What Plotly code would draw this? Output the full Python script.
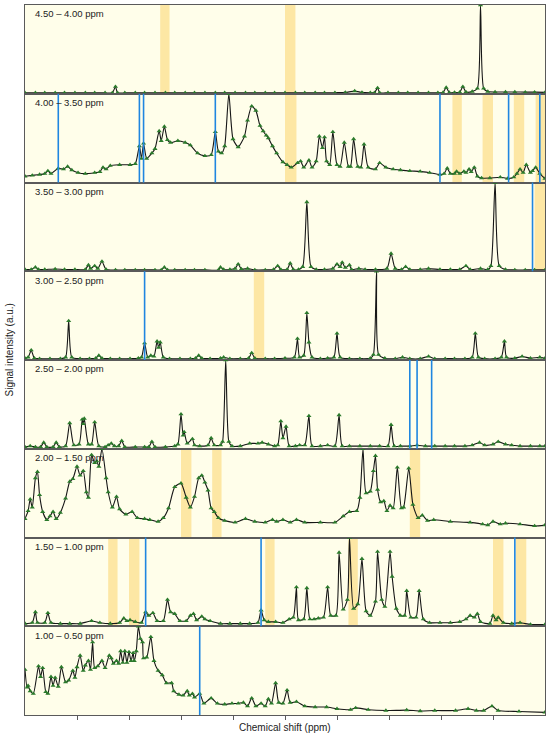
import plotly.graph_objects as go
from plotly.subplots import make_subplots

p1 = [(4.500, 0.01), (4.490, 0.01), (4.481, 0.01), (4.471, 0.01), (4.462, 0.012), (4.452, 0.01),
      (4.442, 0.01), (4.433, 0.01), (4.423, 0.01), (4.416, 0.01), (4.413, 0.08), (4.411, 0.01),
      (4.404, 0.01), (4.394, 0.01), (4.385, 0.01), (4.375, 0.01), (4.365, 0.01), (4.356, 0.01),
      (4.346, 0.01), (4.337, 0.01), (4.327, 0.01), (4.317, 0.01), (4.308, 0.012), (4.298, 0.01),
      (4.288, 0.01), (4.279, 0.01), (4.269, 0.01), (4.260, 0.01), (4.250, 0.01), (4.240, 0.01),
      (4.231, 0.01), (4.221, 0.012), (4.212, 0.01), (4.202, 0.012), (4.192, 0.015), (4.183, 0.03),
      (4.176, 0.015), (4.168, 0.012), (4.164, 0.012), (4.161, 0.065), (4.159, 0.012), (4.151, 0.012),
      (4.141, 0.012), (4.132, 0.012), (4.122, 0.012), (4.112, 0.012), (4.103, 0.012), (4.098, 0.013),
      (4.095, 0.07), (4.092, 0.013), (4.087, 0.015), (4.082, 0.018), (4.079, 0.08), (4.076, 0.02),
      (4.070, 0.025), (4.065, 0.06), (4.062, 1.00), (4.059, 0.06), (4.055, 0.025), (4.048, 0.02),
      (4.038, 0.02), (4.029, 0.02), (4.019, 0.018), (4.010, 0.018), (4.000, 0.015)]

p2 = [(4.000, 0.07), (3.993, 0.08), (3.986, 0.09), (3.981, 0.10), (3.978, 0.13), (3.975, 0.10),
      (3.968, 0.16), (3.963, 0.15), (3.959, 0.18), (3.955, 0.14), (3.949, 0.11), (3.942, 0.10),
      (3.933, 0.11), (3.928, 0.12), (3.925, 0.17), (3.922, 0.15), (3.918, 0.19), (3.909, 0.20),
      (3.899, 0.20), (3.894, 0.21), (3.890, 0.41), (3.888, 0.27), (3.886, 0.44), (3.883, 0.27),
      (3.878, 0.33), (3.875, 0.38), (3.871, 0.58), (3.869, 0.47), (3.866, 0.63), (3.863, 0.48),
      (3.860, 0.45), (3.853, 0.47), (3.846, 0.45), (3.841, 0.42), (3.834, 0.33), (3.827, 0.30),
      (3.821, 0.31), (3.817, 0.57), (3.814, 0.35), (3.811, 0.33), (3.808, 0.41), (3.804, 1.00),
      (3.800, 0.49), (3.795, 0.40), (3.789, 0.52), (3.786, 0.70), (3.782, 0.86), (3.778, 0.81),
      (3.774, 0.64), (3.771, 0.58), (3.768, 0.53), (3.766, 0.50), (3.762, 0.41), (3.758, 0.33),
      (3.752, 0.23), (3.748, 0.20), (3.744, 0.17), (3.738, 0.22), (3.735, 0.24), (3.732, 0.17),
      (3.727, 0.25), (3.724, 0.17), (3.720, 0.24), (3.717, 0.52), (3.714, 0.39), (3.712, 0.51),
      (3.710, 0.24), (3.707, 0.20), (3.704, 0.57), (3.700, 0.20), (3.697, 0.18), (3.693, 0.45),
      (3.689, 0.18), (3.687, 0.18), (3.684, 0.49), (3.680, 0.18), (3.677, 0.17), (3.674, 0.43),
      (3.670, 0.17), (3.663, 0.15), (3.659, 0.22), (3.653, 0.17), (3.646, 0.15), (3.639, 0.14),
      (3.630, 0.13), (3.620, 0.125), (3.611, 0.11), (3.601, 0.09), (3.597, 0.10), (3.594, 0.16),
      (3.591, 0.10), (3.587, 0.10), (3.585, 0.125), (3.582, 0.10), (3.578, 0.125), (3.576, 0.11),
      (3.573, 0.15), (3.571, 0.12), (3.568, 0.17), (3.565, 0.07), (3.561, 0.05), (3.553, 0.05),
      (3.543, 0.06), (3.536, 0.045), (3.530, 0.06), (3.527, 0.10), (3.524, 0.15), (3.521, 0.11),
      (3.518, 0.20), (3.514, 0.11), (3.512, 0.13), (3.509, 0.17), (3.505, 0.10), (3.500, 0.045)]

p3 = [(3.500, 0.02), (3.494, 0.02), (3.490, 0.045), (3.487, 0.02), (3.481, 0.02), (3.471, 0.025),
      (3.462, 0.02), (3.452, 0.02), (3.442, 0.02), (3.439, 0.07), (3.437, 0.03), (3.433, 0.06),
      (3.430, 0.03), (3.426, 0.11), (3.422, 0.02), (3.413, 0.015), (3.404, 0.015), (3.394, 0.015),
      (3.385, 0.015), (3.375, 0.015), (3.369, 0.015), (3.366, 0.045), (3.363, 0.015), (3.356, 0.015),
      (3.346, 0.015), (3.337, 0.015), (3.327, 0.015), (3.314, 0.015), (3.312, 0.045), (3.309, 0.02),
      (3.303, 0.02), (3.298, 0.03), (3.295, 0.08), (3.292, 0.025), (3.286, 0.03), (3.279, 0.015),
      (3.269, 0.015), (3.261, 0.02), (3.257, 0.06), (3.254, 0.02), (3.248, 0.02), (3.245, 0.09),
      (3.242, 0.02), (3.237, 0.02), (3.233, 0.05), (3.229, 0.78), (3.225, 0.05), (3.220, 0.02),
      (3.212, 0.02), (3.204, 0.03), (3.200, 0.08), (3.197, 0.05), (3.195, 0.10), (3.192, 0.04),
      (3.188, 0.07), (3.186, 0.02), (3.179, 0.03), (3.173, 0.02), (3.163, 0.02), (3.152, 0.03),
      (3.148, 0.20), (3.144, 0.03), (3.138, 0.02), (3.134, 0.05), (3.130, 0.02), (3.120, 0.02),
      (3.112, 0.03), (3.101, 0.02), (3.091, 0.02), (3.082, 0.02), (3.076, 0.06), (3.072, 0.02),
      (3.062, 0.03), (3.055, 0.02), (3.052, 0.06), (3.048, 1.00), (3.044, 0.06), (3.038, 0.02),
      (3.029, 0.015), (3.019, 0.015), (3.010, 0.015), (3.000, 0.015)]

p4 = [(3.000, 0.02), (2.997, 0.03), (2.994, 0.11), (2.991, 0.02), (2.986, 0.015), (2.976, 0.015),
      (2.966, 0.015), (2.961, 0.03), (2.958, 0.44), (2.955, 0.03), (2.947, 0.015), (2.938, 0.015),
      (2.932, 0.02), (2.929, 0.05), (2.926, 0.02), (2.918, 0.015), (2.909, 0.015), (2.899, 0.015),
      (2.891, 0.02), (2.888, 0.03), (2.885, 0.19), (2.882, 0.03), (2.879, 0.05), (2.876, 0.04),
      (2.873, 0.21), (2.8715, 0.14), (2.870, 0.20), (2.867, 0.03), (2.861, 0.015), (2.851, 0.015),
      (2.841, 0.015), (2.836, 0.02), (2.833, 0.05), (2.830, 0.02), (2.822, 0.015), (2.812, 0.02),
      (2.809, 0.03), (2.803, 0.015), (2.793, 0.015), (2.785, 0.02), (2.782, 0.08), (2.779, 0.02),
      (2.769, 0.015), (2.760, 0.015), (2.750, 0.02), (2.741, 0.03), (2.738, 0.24), (2.736, 0.03),
      (2.732, 0.05), (2.729, 0.53), (2.727, 0.20), (2.724, 0.03), (2.716, 0.015), (2.709, 0.02),
      (2.703, 0.03), (2.700, 0.30), (2.697, 0.03), (2.688, 0.015), (2.678, 0.015), (2.668, 0.02),
      (2.665, 0.06), (2.662, 1.00), (2.660, 0.06), (2.654, 0.02), (2.644, 0.015), (2.637, 0.03),
      (2.630, 0.015), (2.620, 0.015), (2.612, 0.04), (2.606, 0.015), (2.596, 0.015), (2.587, 0.015),
      (2.577, 0.015), (2.570, 0.03), (2.567, 0.30), (2.564, 0.03), (2.558, 0.015), (2.548, 0.015),
      (2.542, 0.03), (2.539, 0.21), (2.537, 0.03), (2.529, 0.02), (2.522, 0.04), (2.514, 0.02),
      (2.505, 0.03), (2.500, 0.02)]

p5 = [(2.500, 0.02), (2.495, 0.03), (2.490, 0.02), (2.485, 0.02), (2.482, 0.07), (2.479, 0.02),
      (2.473, 0.02), (2.470, 0.07), (2.467, 0.02), (2.461, 0.03), (2.457, 0.29), (2.453, 0.04),
      (2.448, 0.05), (2.445, 0.33), (2.444, 0.28), (2.443, 0.34), (2.439, 0.05), (2.436, 0.05),
      (2.433, 0.30), (2.429, 0.03), (2.423, 0.02), (2.420, 0.04), (2.417, 0.06), (2.414, 0.03),
      (2.410, 0.03), (2.407, 0.09), (2.404, 0.02), (2.394, 0.02), (2.385, 0.02), (2.381, 0.02),
      (2.378, 0.08), (2.375, 0.02), (2.365, 0.02), (2.356, 0.03), (2.353, 0.05), (2.350, 0.39),
      (2.348, 0.15), (2.347, 0.19), (2.344, 0.06), (2.339, 0.11), (2.337, 0.04), (2.332, 0.03),
      (2.324, 0.04), (2.321, 0.12), (2.318, 0.04), (2.312, 0.04), (2.310, 0.08), (2.307, 1.00),
      (2.304, 0.08), (2.301, 0.03), (2.293, 0.03), (2.284, 0.06), (2.276, 0.06), (2.272, 0.07),
      (2.266, 0.05), (2.260, 0.03), (2.257, 0.04), (2.254, 0.31), (2.252, 0.12), (2.249, 0.25),
      (2.246, 0.03), (2.240, 0.03), (2.236, 0.04), (2.231, 0.04), (2.227, 0.37), (2.224, 0.03),
      (2.216, 0.03), (2.209, 0.04), (2.202, 0.03), (2.198, 0.38), (2.195, 0.03), (2.188, 0.03),
      (2.178, 0.03), (2.168, 0.03), (2.159, 0.03), (2.151, 0.03), (2.148, 0.27), (2.145, 0.03),
      (2.139, 0.03), (2.130, 0.03), (2.123, 0.04), (2.115, 0.03), (2.106, 0.03), (2.096, 0.03),
      (2.087, 0.03), (2.077, 0.03), (2.070, 0.04), (2.063, 0.07), (2.058, 0.04), (2.050, 0.05),
      (2.045, 0.08), (2.038, 0.05), (2.032, 0.04), (2.024, 0.03), (2.014, 0.03), (2.005, 0.03),
      (2.000, 0.03)]

p6 = [(2.000, 0.21), (1.997, 0.30), (1.995, 0.43), (1.993, 0.34), (1.990, 0.67), (1.988, 0.74),
      (1.986, 0.48), (1.983, 0.29), (1.979, 0.20), (1.976, 0.24), (1.973, 0.29), (1.970, 0.21),
      (1.966, 0.28), (1.961, 0.44), (1.957, 0.63), (1.954, 0.66), (1.950, 0.80), (1.947, 0.70),
      (1.944, 0.75), (1.941, 0.51), (1.939, 0.45), (1.936, 0.93), (1.933, 0.84), (1.931, 0.86),
      (1.929, 0.80), (1.926, 1.00), (1.922, 0.67), (1.920, 0.51), (1.916, 0.34), (1.912, 0.46),
      (1.909, 0.32), (1.903, 0.26), (1.897, 0.29), (1.892, 0.22), (1.885, 0.21), (1.880, 0.20),
      (1.872, 0.18), (1.867, 0.22), (1.862, 0.33), (1.856, 0.57), (1.850, 0.61), (1.845, 0.45),
      (1.841, 0.34), (1.837, 0.46), (1.833, 0.67), (1.830, 0.70), (1.827, 0.62), (1.824, 0.53),
      (1.821, 0.33), (1.818, 0.29), (1.814, 0.22), (1.808, 0.19), (1.798, 0.17), (1.788, 0.21),
      (1.779, 0.18), (1.769, 0.17), (1.762, 0.20), (1.758, 0.18), (1.752, 0.20), (1.745, 0.17),
      (1.739, 0.20), (1.731, 0.17), (1.716, 0.17), (1.702, 0.17), (1.694, 0.24), (1.688, 0.29),
      (1.681, 0.30), (1.678, 0.45), (1.675, 1.00), (1.672, 0.50), (1.668, 0.52), (1.665, 0.75),
      (1.663, 0.92), (1.661, 0.54), (1.658, 0.40), (1.655, 0.41), (1.652, 0.30), (1.649, 0.36),
      (1.646, 0.33), (1.642, 0.79), (1.638, 0.33), (1.636, 0.34), (1.631, 0.78), (1.627, 0.37),
      (1.622, 0.22), (1.618, 0.25), (1.613, 0.19), (1.607, 0.20), (1.591, 0.18), (1.572, 0.17),
      (1.560, 0.15), (1.555, 0.14), (1.550, 0.18), (1.543, 0.15), (1.538, 0.16), (1.524, 0.15),
      (1.510, 0.13), (1.500, 0.14)]

p7 = [(1.500, 0.03), (1.493, 0.04), (1.490, 0.16), (1.488, 0.04), (1.481, 0.04), (1.478, 0.15),
      (1.475, 0.04), (1.466, 0.03), (1.457, 0.03), (1.447, 0.03), (1.436, 0.06), (1.428, 0.04),
      (1.418, 0.03), (1.409, 0.04), (1.405, 0.09), (1.402, 0.06), (1.399, 0.07), (1.394, 0.05),
      (1.388, 0.04), (1.384, 0.16), (1.381, 0.12), (1.377, 0.15), (1.373, 0.06), (1.367, 0.06),
      (1.363, 0.30), (1.360, 0.16), (1.356, 0.14), (1.351, 0.06), (1.345, 0.06), (1.341, 0.12),
      (1.338, 0.14), (1.335, 0.07), (1.330, 0.11), (1.327, 0.08), (1.322, 0.06), (1.312, 0.03),
      (1.303, 0.03), (1.293, 0.03), (1.284, 0.03), (1.276, 0.04), (1.273, 0.18), (1.270, 0.07),
      (1.266, 0.05), (1.259, 0.05), (1.252, 0.04), (1.246, 0.08), (1.242, 0.10), (1.239, 0.44),
      (1.237, 0.07), (1.232, 0.08), (1.229, 0.43), (1.226, 0.08), (1.222, 0.08), (1.218, 0.09),
      (1.213, 0.10), (1.209, 0.44), (1.206, 0.12), (1.201, 0.12), (1.198, 0.83), (1.194, 0.19),
      (1.190, 0.30), (1.188, 1.00), (1.184, 0.20), (1.180, 0.25), (1.176, 0.76), (1.172, 0.17),
      (1.168, 0.12), (1.163, 0.28), (1.161, 0.84), (1.157, 0.30), (1.154, 0.22), (1.149, 0.84),
      (1.147, 0.56), (1.143, 0.20), (1.139, 0.12), (1.135, 0.12), (1.133, 0.40), (1.129, 0.10),
      (1.124, 0.10), (1.121, 0.40), (1.117, 0.08), (1.111, 0.04), (1.101, 0.04), (1.091, 0.04),
      (1.082, 0.05), (1.076, 0.08), (1.072, 0.12), (1.068, 0.10), (1.065, 0.14), (1.062, 0.05),
      (1.053, 0.03), (1.050, 0.12), (1.047, 0.07), (1.045, 0.10), (1.040, 0.04), (1.032, 0.03),
      (1.024, 0.04), (1.014, 0.02), (1.000, 0.02)]

p8 = [(1.000, 0.51), (0.998, 0.31), (0.997, 0.33), (0.995, 0.27), (0.992, 0.24), (0.987, 0.55),
      (0.985, 0.43), (0.983, 0.53), (0.980, 0.26), (0.978, 0.24), (0.975, 0.43), (0.973, 0.33),
      (0.971, 0.42), (0.968, 0.32), (0.965, 0.54), (0.961, 0.37), (0.958, 0.39), (0.954, 0.50),
      (0.952, 0.42), (0.950, 0.54), (0.947, 0.67), (0.944, 0.50), (0.942, 0.56), (0.939, 0.61),
      (0.937, 0.51), (0.935, 0.82), (0.933, 0.53), (0.930, 0.55), (0.926, 0.61), (0.923, 0.53),
      (0.919, 0.67), (0.917, 0.64), (0.915, 0.58), (0.912, 0.61), (0.910, 0.58), (0.908, 0.72),
      (0.906, 0.59), (0.904, 0.72), (0.902, 0.59), (0.900, 0.71), (0.898, 0.61), (0.896, 0.70),
      (0.895, 0.61), (0.893, 0.72), (0.891, 1.00), (0.889, 0.86), (0.887, 0.82), (0.886, 0.64),
      (0.883, 0.65), (0.879, 0.88), (0.876, 0.61), (0.872, 0.50), (0.868, 0.45), (0.864, 0.36),
      (0.859, 0.36), (0.857, 0.27), (0.852, 0.23), (0.848, 0.22), (0.844, 0.27), (0.842, 0.22),
      (0.839, 0.24), (0.837, 0.20), (0.832, 0.24), (0.828, 0.13), (0.821, 0.19), (0.815, 0.13),
      (0.808, 0.12), (0.801, 0.13), (0.795, 0.13), (0.790, 0.14), (0.786, 0.10), (0.782, 0.19),
      (0.778, 0.10), (0.773, 0.13), (0.769, 0.10), (0.766, 0.18), (0.763, 0.13), (0.759, 0.36),
      (0.756, 0.14), (0.752, 0.13), (0.748, 0.28), (0.745, 0.14), (0.739, 0.15), (0.731, 0.10),
      (0.721, 0.09), (0.710, 0.09), (0.700, 0.07), (0.687, 0.06), (0.682, 0.08), (0.670, 0.06),
      (0.653, 0.05), (0.633, 0.055), (0.620, 0.045), (0.606, 0.05), (0.586, 0.05), (0.574, 0.07),
      (0.566, 0.05), (0.559, 0.05), (0.551, 0.10), (0.545, 0.05), (0.525, 0.04), (0.500, 0.03)]

# shaded regions (ppm from, ppm to) and marked positions per strip
band1 = [(4.370, 4.361), (4.250, 4.240)]
band2 = [(3.750, 3.739), (3.589, 3.580), (3.560, 3.550), (3.530, 3.520), (3.509, 3.500)]
band3 = [(3.010, 3.000)]
band4 = [(2.780, 2.770)]
band5 = []
band6 = [(1.850, 1.840), (1.820, 1.811), (1.630, 1.620)]
band7 = [(1.420, 1.411), (1.400, 1.390), (1.269, 1.260), (1.189, 1.180), (1.050, 1.040), (1.028, 1.018)]
band8 = []

mark1 = []
mark2 = [3.968, 3.890, 3.886, 3.817, 3.601, 3.535, 3.505]
mark3 = [3.012]
mark4 = [2.885]
mark5 = [2.130, 2.123, 2.109]
mark6 = []
mark7 = [1.384, 1.273, 1.029]
mark8 = [0.832]

starts = [4.50, 4.00, 3.50, 3.00, 2.50, 2.00, 1.50, 1.00]
labels = ['4.50 – 4.00 ppm', '4.00 – 3.50 ppm', '3.50 – 3.00 ppm', '3.00 – 2.50 ppm',
          '2.50 – 2.00 ppm', '2.00 – 1.50 ppm', '1.50 – 1.00 ppm', '1.00 – 0.50 ppm']
bottom_ticks = [0.95, 0.90, 0.85, 0.80, 0.75, 0.70, 0.65, 0.60, 0.55]

spectra = [p1, p2, p3, p4, p5, p6, p7, p8]
bands = [band1, band2, band3, band4, band5, band6, band7, band8]
marks = [mark1, mark2, mark3, mark4, mark5, mark6, mark7, mark8]

font = 'Liberation Sans, Arial, sans-serif'
fig = make_subplots(rows=8, cols=1, vertical_spacing=0)

for i in range(8):
    r = i + 1
    pts = spectra[i]
    fig.add_trace(go.Scatter(x=[p[0] for p in pts], y=[p[1] for p in pts], mode='lines+markers',
                             line=dict(color='#161616', width=1.1, shape='spline', smoothing=0.6),
                             marker=dict(symbol='triangle-up', size=4.5, color='#2b7a2b'),
                             showlegend=False), row=r, col=1)
    for x0, x1 in bands[i]:
        fig.add_vrect(x0=x0, x1=x1, row=r, col=1, fillcolor='#fde49c', opacity=0.9,
                      line_width=0, layer='below')
    for x in marks[i]:
        fig.add_vline(x=x, row=r, col=1, line=dict(color='#1f86e0', width=1.6))
    fig.update_xaxes(range=[starts[i], starts[i] - 0.5], row=r, col=1)
    fig.add_annotation(text=labels[i], xref='x domain' if r == 1 else 'x%d domain' % r,
                       yref='y domain' if r == 1 else 'y%d domain' % r,
                       x=0.016, y=0.985, xanchor='left', yanchor='top', showarrow=False,
                       font=dict(size=9.5, color='#222'))

fig.update_xaxes(showticklabels=False, ticks='', showgrid=False, zeroline=False,
                 showline=True, mirror=True, linecolor='#5a5a5a', linewidth=1)
fig.update_xaxes(tickvals=bottom_ticks, ticks='outside', ticklen=4, tickcolor='#5a5a5a', row=8, col=1)
fig.update_yaxes(range=[0, 1.0], showticklabels=False, ticks='', showgrid=False, zeroline=False,
                 showline=True, mirror=True, linecolor='#5a5a5a', linewidth=1)

fig.add_annotation(text='Signal intensity (a.u.)', xref='paper', yref='paper', x=-0.03, y=0.514,
                   xanchor='center', yanchor='middle', textangle=-90, showarrow=False,
                   font=dict(size=10, color='#222'))
fig.add_annotation(text='Chemical shift (ppm)', xref='paper', yref='paper', x=0.5, y=-0.017,
                   xanchor='center', yanchor='middle', showarrow=False,
                   font=dict(size=10, color='#222'))

fig.update_layout(width=550, height=742, margin=dict(l=25, r=5, t=5, b=27),
                  plot_bgcolor='#fffeea', paper_bgcolor='white', font=dict(family=font))

fig.write_html("out.html", config={'displayModeBar': False},
               post_script="document.body.style.margin='0px';")
